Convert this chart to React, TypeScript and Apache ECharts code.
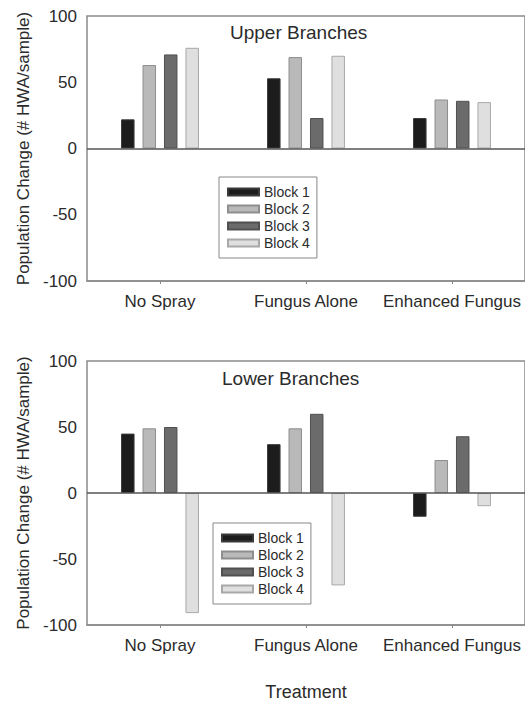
import React, { useEffect, useRef } from 'react';
import * as echarts from 'echarts';

const categories = ['No Spray', 'Fungus Alone', 'Enhanced Fungus'];
const blockNames = ['Block 1', 'Block 2', 'Block 3', 'Block 4'];

const upperBlock1 = [22, 53, 23];
const upperBlock2 = [63, 69, 37];
const upperBlock3 = [71, 23, 36];
const upperBlock4 = [76, 70, 35];

const lowerBlock1 = [45, 37, -18];
const lowerBlock2 = [49, 49, 25];
const lowerBlock3 = [50, 60, 43];
const lowerBlock4 = [-91, -70, -10];

const yMin = -100;
const yMax = 100;
const yInterval = 50;

const panelTitles = ['Upper Branches', 'Lower Branches'];
const yAxisTitle = 'Population Change (# HWA/sample)';
const xAxisTitle = 'Treatment';

const FONT = 'Liberation Sans, Arial, sans-serif';
const TEXT = '#2b2b2b';
const FRAME = '#8a8a8a';

const barStyles = [
  { color: '#1c1c1c', borderColor: '#3a3a3a' },
  { color: '#b9b9b9', borderColor: '#8e8e8e' },
  { color: '#6b6b6b', borderColor: '#505050' },
  { color: '#dfdfdf', borderColor: '#a8a8a8' },
];

export default function App() {
  const ref = useRef<HTMLDivElement>(null);
  useEffect(() => {
    const chart = echarts.init(ref.current!, null, { renderer: 'svg' });
    const upper = [upperBlock1, upperBlock2, upperBlock3, upperBlock4];
    const lower = [lowerBlock1, lowerBlock2, lowerBlock3, lowerBlock4];
    const grids = [
      { left: 87, top: 16, width: 439, height: 265 },
      { left: 87, top: 361, width: 439, height: 265 },
    ];
    const zeroLine = {
      silent: true,
      symbol: ['none', 'none'],
      label: { show: false },
      lineStyle: { color: '#555', width: 1.5, type: 'solid' },
      data: [{ yAxis: 0 }],
    };
    const makeSeries = (sets: number[][], gi: number) =>
      sets.map((d, i) => ({
        type: 'bar',
        name: blockNames[i],
        xAxisIndex: gi,
        yAxisIndex: gi,
        data: d,
        barWidth: 13.5,
        barGap: '59%',
        itemStyle: { ...barStyles[i], borderWidth: 1 },
        ...(i === 0 ? { markLine: zeroLine } : {}),
      }));
    const legendBase = {
      data: blockNames,
      orient: 'vertical',
      padding: [8, 7, 8, 8],
      itemWidth: 31,
      itemHeight: 7,
      itemGap: 3,
      borderColor: '#888',
      borderWidth: 1,
      icon: 'rect',
      selectedMode: false,
      textStyle: { fontSize: 14, color: TEXT, fontFamily: FONT, lineHeight: 14 },
    };
    chart.setOption({
      animation: false,
      backgroundColor: '#fff',
      title: [
        { text: panelTitles[0], left: 230, top: 23, padding: 0, textStyle: { fontSize: 19, fontWeight: 'normal', color: TEXT, fontFamily: FONT } },
        { text: panelTitles[1], left: 222, top: 369, padding: 0, textStyle: { fontSize: 19, fontWeight: 'normal', color: TEXT, fontFamily: FONT } },
      ],
      legend: [
        { ...legendBase, left: 219, top: 177 },
        { ...legendBase, left: 213, top: 523 },
      ],
      grid: grids.map((g) => ({ ...g, show: true, borderColor: FRAME, borderWidth: 1.5 })),
      xAxis: [0, 1].map((gi) => ({
        type: 'category',
        gridIndex: gi,
        data: categories,
        axisLine: { show: true, onZero: false, lineStyle: { color: FRAME, width: 1.5 } },
        axisTick: { show: true, alignWithLabel: true, length: 3, lineStyle: { color: FRAME } },
        axisLabel: { fontSize: 17, color: TEXT, fontFamily: FONT, margin: 12, interval: 0 },
        ...(gi === 1
          ? { name: xAxisTitle, nameLocation: 'middle', nameGap: 58, nameTextStyle: { fontSize: 18, color: TEXT, fontFamily: FONT } }
          : {}),
      })),
      yAxis: [0, 1].map((gi) => ({
        type: 'value',
        gridIndex: gi,
        min: yMin,
        max: yMax,
        interval: yInterval,
        axisLine: { show: false },
        axisTick: { show: false },
        splitLine: { show: false },
        axisLabel: { fontSize: 17, color: TEXT, fontFamily: FONT, margin: 10 },
        name: yAxisTitle,
        nameLocation: 'middle',
        nameGap: 50,
        nameTextStyle: { fontSize: 17, color: TEXT, fontFamily: FONT },
      })),
      series: [...makeSeries(upper, 0), ...makeSeries(lower, 1)],
    });
    return () => chart.dispose();
  }, []);
  return <div ref={ref} style={{ position: 'absolute', left: 0, top: 0, width: 525, height: 702 }} />;
}
